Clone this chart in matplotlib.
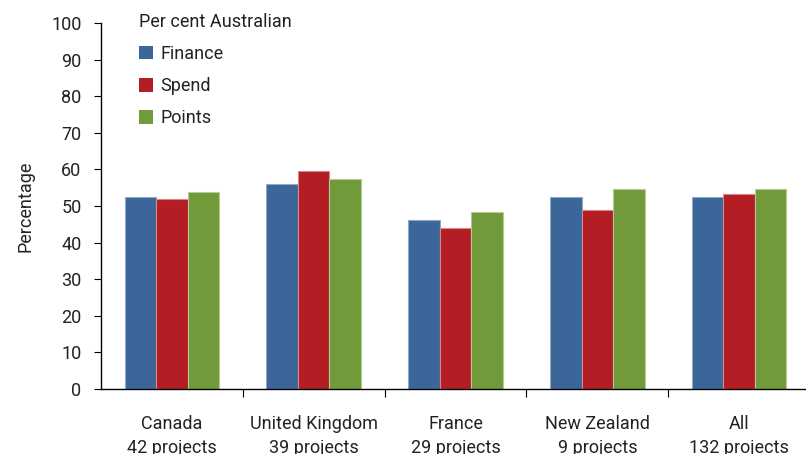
import numpy as np
import matplotlib.pyplot as plt
from matplotlib.patches import Patch

plt.rcParams['font.family'] = ['Roboto', 'DejaVu Sans']

categories = ['Canada\n42 projects', 'United Kingdom\n39 projects', 'France\n29 projects',
              'New Zealand\n9 projects', 'All\n132 projects']
finance = [52.4, 56.0, 46.2, 52.4, 52.4]
spend = [51.9, 59.5, 43.9, 48.8, 53.3]
points = [53.7, 57.3, 48.3, 54.6, 54.6]

colors = ['#3C6699', '#B31E25', '#719A3B']
edges = ['#8FA8C8', '#D9878A', '#B3CC96']
names = ['Finance', 'Spend', 'Points']
fs = 13
txt = '#222222'

fig = plt.figure(figsize=(8.06, 4.54), dpi=100)
ax = fig.add_axes([0.1253, 0.1432, 0.8797, 0.8062])

x = np.arange(len(categories))
w = 0.222
for i, vals in enumerate([finance, spend, points]):
    ax.bar(x + (i - 1) * w, vals, w, color=colors[i], edgecolor=edges[i], linewidth=0.8)

ax.set_ylim(0, 100)
ax.set_xlim(-0.5, len(categories) - 0.5)
ax.set_yticks(range(0, 101, 10))
ax.tick_params(axis='y', labelsize=fs, length=5, width=0.8, pad=9, labelcolor=txt, color='black')

# category dividers as major ticks, labels on minor ticks
ax.set_xticks(np.arange(0.5, len(categories) - 0.5, 1))
ax.set_xticklabels([])
ax.set_xticks(x, minor=True)
ax.set_xticklabels(categories, minor=True, fontsize=fs, color=txt, linespacing=1.4)
ax.tick_params(axis='x', which='major', length=6, width=0.8)
ax.tick_params(axis='x', which='minor', length=0, pad=19)

for s in ['top', 'right']:
    ax.spines[s].set_visible(False)
for s in ['left', 'bottom']:
    ax.spines[s].set_linewidth(1.0)
    ax.spines[s].set_color('black')

ax.set_ylabel('Percentage', fontsize=fs, color=txt, labelpad=12)

handles = [Patch(facecolor=c, edgecolor='none') for c in colors]
leg = ax.legend(handles, names, title='Per cent Australian', loc='upper left',
                bbox_to_anchor=(0.03, 1.072), frameon=False, fontsize=fs,
                title_fontsize=fs, handlelength=0.78, handleheight=0.78,
                handletextpad=0.45, labelspacing=0.78, alignment='left')
for t in leg.get_texts():
    t.set_color(txt)
leg.get_title().set_color(txt)

fig.savefig('out.png', dpi=100)
